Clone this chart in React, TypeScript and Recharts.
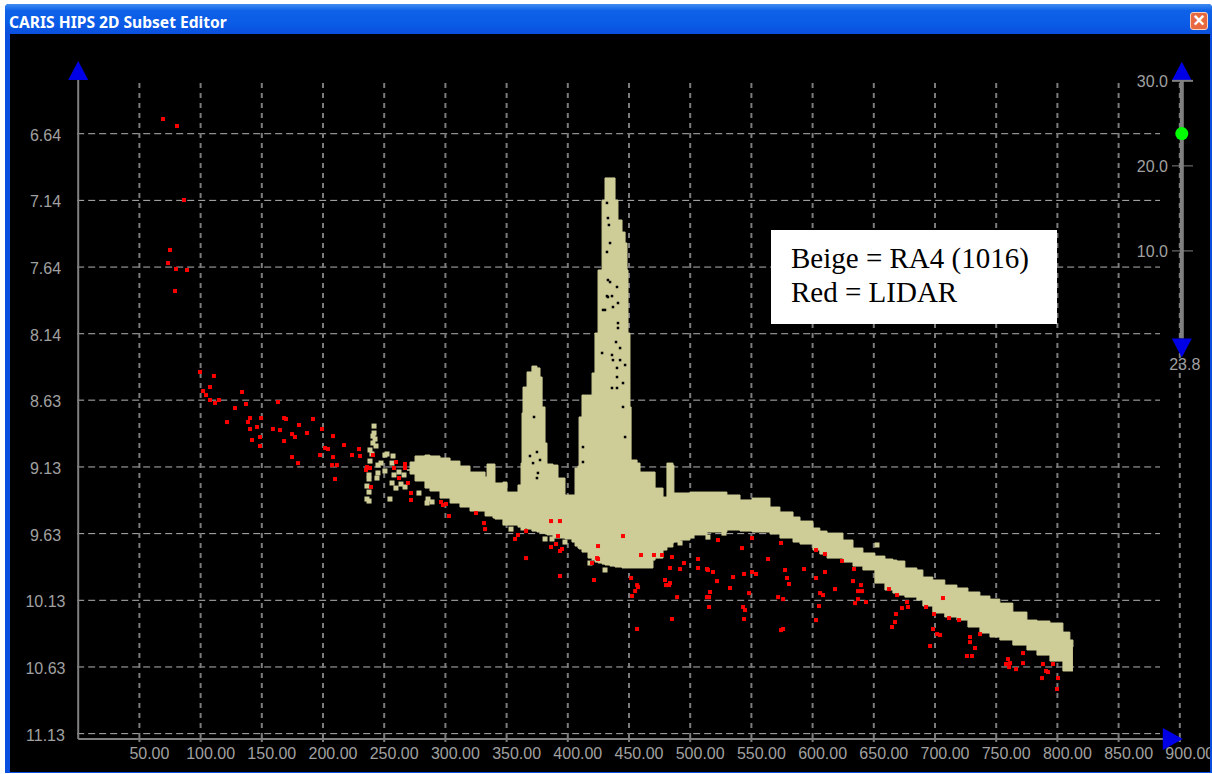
import React from 'react';
import {
  ComposedChart,
  Area,
  Scatter,
  XAxis,
  YAxis,
  CartesianGrid,
  ReferenceLine,
} from 'recharts';

const xTicks = [50, 100, 150, 200, 250, 300, 350, 400, 450, 500, 550, 600, 650, 700, 750, 800, 850, 900];
const yTicks = [6.64, 7.139, 7.638, 8.137, 8.634, 9.134, 9.633, 10.132, 10.631, 11.13];
const sliderTicks = [10, 20, 30];
const sliderValue = 23.8;

// beige swath outline: position, shallow edge, deep edge
const bandX = [
  268.6, 271.1, 275.2, 283.3, 287.4, 295.6, 303.8, 311.9, 320.1, 332.4, 334, 338.9, 340.5, 347, 350.3, 359.3, 361.8, 362.6, 363.4, 366.7,
  370.7, 374.8, 377.3, 379, 381.4, 383, 387.9, 392, 397.7, 403.4, 405.9, 408.3, 409.2, 411.6, 416.5, 419.8, 422.2, 424.7,
  428, 430.4, 434.5, 438.6, 441, 444.3, 446.8, 448.4, 449.2, 450.8, 451.7, 456.6, 459, 469.6, 471.3, 477.8, 481, 485.9,
  486.7, 491.7, 499.8, 513.7, 530, 540.7, 550.5, 565.2, 573.3, 584, 589.7, 600.3, 605.9, 611.8, 624.8, 633, 641.1, 650.9, 659.1, 665.6, 668.9, 675.4, 685.2,
  690.1, 698.2, 708, 717.9, 726.9, 736.7, 744.9, 753, 763.6, 775.1, 783.3, 793.9, 804.5, 810.2, 812.7,
];
const bandTop = [
  9.157, 9.097, 9.052, 9.045, 9.052, 9.067, 9.09, 9.127, 9.172, 9.209, 9.112, 9.112, 9.254, 9.247, 9.322, 9.269, 9.105, 8.73, 8.536, 8.423,
  8.379, 8.393, 8.461, 8.685, 8.955, 9.112, 9.12, 9.217, 9.344, 9.344, 9.142, 9.127, 8.76, 8.596, 8.596, 8.431, 8.132, 7.66,
  7.136, 6.971, 6.971, 7.136, 7.286, 7.376, 7.458, 7.66, 8.132, 8.685, 9.082, 9.105, 9.172, 9.172, 9.292, 9.359, 9.105, 9.12,
  9.329, 9.329, 9.322, 9.322, 9.344, 9.381, 9.367, 9.434, 9.471, 9.509, 9.539, 9.591, 9.614, 9.629, 9.681, 9.741, 9.778, 9.801, 9.823, 9.831, 9.838, 9.89, 9.905,
  9.958, 9.98, 10.018, 10.04, 10.07, 10.1, 10.123, 10.153, 10.22, 10.28, 10.287, 10.302, 10.37, 10.429, 10.482,
];
const bandBottom = [
  9.157, 9.187, 9.239, 9.292, 9.314, 9.367, 9.404, 9.434, 9.464, 9.501, 9.501, 9.516, 9.524, 9.569, 9.569, 9.584, 9.584, 9.584, 9.591, 9.599,
  9.614, 9.621, 9.629, 9.629, 9.636, 9.643, 9.666, 9.666, 9.673, 9.696, 9.726, 9.741, 9.748, 9.771, 9.816, 9.831, 9.846, 9.853,
  9.861, 9.868, 9.876, 9.883, 9.883, 9.89, 9.89, 9.89, 9.89, 9.89, 9.89, 9.89, 9.89, 9.831, 9.816, 9.756, 9.733, 9.703,
  9.696, 9.681, 9.643, 9.621, 9.606, 9.614, 9.621, 9.636, 9.666, 9.696, 9.711, 9.756, 9.786, 9.816, 9.846, 9.876, 9.905, 10.003, 10.055, 10.078, 10.093, 10.108, 10.13,
  10.175, 10.227, 10.257, 10.28, 10.332, 10.377, 10.407, 10.429, 10.467, 10.504, 10.542, 10.587, 10.661, 10.661, 10.661,
];

// loose soundings of the beige line
const strayX = [
  241.7, 241.7, 240.8, 242.5, 240.8, 243.3, 238.4, 240, 238.4, 244.9, 247.4, 250.6, 244.9, 237.6, 237.6, 244.1, 235.9, 237.6,
  235.9, 237.6, 254.7, 259.6, 256.4, 263.7, 267, 258, 262.1, 266.2, 256.4, 257.2, 252.3, 250.6, 278.4, 285, 285.8, 289.1,
  353.6, 363.4, 381.4, 387.1, 397.7, 418.1, 430.4, 491.7, 501.5, 514.5, 527.6, 652.6,
];
const strayY = [
  8.828, 8.88, 8.903, 8.925, 8.955, 8.977, 9.007, 9.037, 9.09, 9.12, 9.105, 9.164, 9.179, 9.194, 9.224, 9.217, 9.277, 9.322,
  9.374, 9.389, 9.374, 9.292, 9.254, 9.262, 9.284, 9.194, 9.172, 9.194, 9.105, 9.052, 9.037, 9.045, 9.329, 9.404, 9.374, 9.396,
  9.599, 9.591, 9.673, 9.673, 9.696, 9.853, 9.905, 9.703, 9.651, 9.659, 9.629, 9.718,
];

// gaps in the beige peaks
const gapX = [
  432, 434.5, 432.8, 433.6, 432, 432.8, 434.5, 432.8, 436.1, 432, 441, 441, 439.4, 442.7, 442.7, 440.2, 446.8, 440.2, 445.1, 436.1,
  440.2, 445.1, 446.8, 412.4, 412.4, 430.4, 436.9, 441, 440.2, 428.8, 428, 436.9, 436.1, 372.4, 374.8, 369.1, 377.3, 371.6, 375.6, 374.8,
];
const gapY = [
  7.525, 7.458, 7.271, 7.323, 7.158, 7.735, 7.75, 7.862, 7.855, 7.855, 8.057, 8.094, 8.199, 8.244, 8.334, 8.393, 8.371, 8.461, 8.506, 8.543,
  8.543, 8.685, 8.91, 8.985, 9.097, 7.959, 7.937, 7.907, 7.787, 7.959, 8.281, 8.334, 8.296, 8.76, 9.022, 9.052, 9.082, 9.105, 9.179, 9.217,
];

// LIDAR soundings
const redX = [
  69.3, 80.7, 86.4, 75, 73.4, 79.9, 88.9, 79.1, 99.5, 110.9, 107.7, 102, 104.4, 107.7, 111.8, 115, 133.8, 137.1, 128.1, 121.6,
  163.2, 140.4, 138.7, 149.4, 140.4, 146.1, 148.5, 142, 148.5, 159.1, 164.9, 168.2, 169.8, 180.4, 191.8, 174.7, 177.1, 168.2, 186.9, 199.2,
  208.2, 217.2, 201.7, 204.1, 197.6, 208.2, 174.7, 179.6, 207.4, 211.4, 209.8, 223.7, 229.4, 230.2, 240.8, 235.9, 235.1, 238.4, 239.2, 259.6,
  267, 267, 258, 262.1, 269.4, 271.9, 271.9, 296.4, 298, 300.5, 302.9, 331.5, 332.4, 325, 356.9, 359.3, 365.9, 365.9, 386.3, 390.4,
  392, 393.6, 395.3, 393.6, 393.6, 386.3, 424.7, 423.9, 424.7, 419.8, 421.4, 445.1, 459.8, 470.4, 477, 485.1, 483.5, 491.7, 494.9, 506.4,
  506.4, 513.7, 514.5, 518.6, 522.7, 542.3, 550.5, 550.5, 553.8, 544, 535, 521.9, 532.5, 548.1, 516.2, 513.7, 515.4, 515.4, 543.2, 544.8,
  544, 489.3, 485.1, 456.6, 451.7, 456.6, 457.4, 455, 452.5, 479.4, 483.5, 482.7, 480.2, 574.2, 563.6, 577.5, 593, 579.1, 580.7, 571.8,
  575.9, 574.2, 575.9, 602.8, 610.1, 624, 633.8, 610.1, 602.8, 633, 639.5, 637.1, 640.4, 618.3, 606.1, 608.5, 637.1, 634.7, 643.6, 605.2,
  602.8, 662.4, 669, 677.1, 677.9, 673, 668.1, 667.3, 664.9, 692.7, 699.2, 711.5, 719.6, 698.4, 701.7, 704.1, 696, 736.8, 728.6, 728.6,
  732.7, 726.1, 730.2, 771.9, 759.6, 758, 761.3, 760.5, 771.9, 766.2, 788.2, 790.7, 792.3, 787.4, 800.5, 799.7, 796.4, 706.5,
];
const redY = [
  6.53, 6.582, 7.136, 7.51, 7.608, 7.652, 7.66, 7.817, 8.423, 8.453, 8.536, 8.566, 8.596, 8.633, 8.655, 8.633, 8.573, 8.663, 8.693, 8.798,
  8.648, 8.768, 8.798, 8.768, 8.85, 8.835, 8.91, 8.932, 8.977, 8.85, 8.858, 8.768, 8.775, 8.82, 8.775, 8.888, 8.91, 8.94, 8.88, 8.85,
  8.903, 8.97, 8.992, 9, 9.045, 9.06, 9.06, 9.105, 9.12, 9.12, 9.224, 9.045, 9, 9.052, 9.045, 9.135, 9.157, 9.142, 9.284, 9.097,
  9.112, 9.142, 9.142, 9.217, 9.254, 9.329, 9.381, 9.396, 9.419, 9.411, 9.501, 9.554, 9.599, 9.479, 9.673, 9.643, 9.614, 9.816, 9.733, 9.711,
  9.651, 9.763, 9.748, 9.95, 9.539, 9.539, 9.726, 9.816, 9.823, 9.853, 9.98, 9.651, 9.793, 9.793, 9.793, 9.808, 9.89, 9.898, 9.853, 9.823,
  9.89, 9.898, 9.905, 9.92, 9.681, 9.741, 9.666, 9.92, 9.935, 9.935, 9.958, 9.988, 10.04, 10.078, 10.07, 10.108, 10.108, 10.182, 10.182, 10.205,
  10.272, 10.108, 10.272, 10.347, 9.965, 10.018, 10.033, 10.063, 10.1, 9.98, 10.003, 10.018, 10.018, 9.703, 9.823, 9.905, 9.898, 9.965, 10.01, 10.108,
  10.123, 10.355, 10.347, 9.756, 9.786, 9.838, 9.898, 9.92, 9.965, 9.988, 10.018, 10.063, 10.063, 10.048, 10.078, 10.093, 10.123, 10.153, 10.145, 10.175,
  10.28, 10.048, 10.093, 10.145, 10.182, 10.19, 10.235, 10.295, 10.332, 10.182, 10.235, 10.265, 10.28, 10.347, 10.385, 10.392, 10.474, 10.385, 10.407, 10.445,
  10.489, 10.549, 10.549, 10.527, 10.572, 10.609, 10.602, 10.632, 10.602, 10.647, 10.609, 10.661, 10.669, 10.714, 10.714, 10.796, 10.609, 10.115,
];

const bandData = bandX.map((x, i) => ({ x, band: [bandTop[i], bandBottom[i]] }));
const strayData = strayX.map((x, i) => ({ x, y: strayY[i] }));
const gapData = gapX.map((x, i) => ({ x, y: gapY[i] }));
const redData = redX.map((x, i) => ({ x, y: redY[i] }));

const FONT = '"Liberation Sans", Arial, sans-serif';
const LABEL = '#a0a0a0';
const BLUE = '#0000e6';
const BEIGE = '#cfcd97';

const Dot = (size: number, fill: string) => (props: any) => (
  <rect x={props.cx - size / 2} y={props.cy - size / 2} width={size} height={size} fill={fill} />
);

const Knob = (props: any) => <circle cx={props.cx + 2} cy={props.cy} r={6.5} fill="#00ff00" />;

const Triangle = (dir: 'up' | 'down' | 'right', shift = 0) => (props: any) => {
  const cx = props.cx + shift;
  const cy = props.cy;
  let pts = `${cx - 10},${cy} ${cx + 10},${cy} ${cx},${cy - 19}`;
  if (dir === 'down') pts = `${cx - 10},${cy} ${cx + 10},${cy} ${cx},${cy + 19}`;
  if (dir === 'right') pts = `${cx - 17},${cy - 11} ${cx - 17},${cy + 11} ${cx + 3},${cy}`;
  return (
    <g>
      <polygon points={pts} fill={BLUE} />
      {dir === 'down' && (
        <text x={cx + 3} y={cy + 32} textAnchor="middle" fontSize={16} fontFamily={FONT} fill={LABEL}>
          {sliderValue.toFixed(1)}
        </text>
      )}
    </g>
  );
};

const XTick = ({ x, y, payload }: any) => (
  <text x={x + 10} y={y + 15} textAnchor="middle" fontSize={16} fontFamily={FONT} fill={LABEL}>
    {payload.value.toFixed(2)}
  </text>
);

const YTick = ({ y, payload }: any) => (
  <text x={45.5} y={y + 7} textAnchor="middle" fontSize={16} fontFamily={FONT} fill={LABEL}>
    {payload.value.toFixed(2)}
  </text>
);

const SliderTick = ({ y, payload }: any) => (
  <g>
    <line x1={1172} x2={1193} y1={y} y2={y} stroke="#808080" strokeWidth={payload.value === 30 ? 2 : 1} />
    <text x={1168} y={y + 6} textAnchor="end" fontSize={16} fontFamily={FONT} fill={LABEL}>
      {payload.value.toFixed(1)}
    </text>
  </g>
);

const GridH = (props: any) => (
  <line x1={props.x1 - 1} x2={1160} y1={props.y1} y2={props.y2} stroke="#b4b4b4" strokeDasharray="7 4" />
);
const GridV = (props: any) => (
  <line x1={props.x1} x2={props.x2} y1={83} y2={props.y2} stroke="#7c7c7c" strokeWidth={2} strokeDasharray="5 5" />
);
const SliderBar = (props: any) => (
  <line x1={props.x1 + 2} x2={props.x2 + 2} y1={props.y1} y2={props.y2} stroke="#808080" strokeWidth={4} />
);

export default function App() {
  return (
    <div style={{ position: 'absolute', left: 0, top: 0, width: 1212, height: 774, background: '#fff', overflow: 'hidden' }}>
      <div
        style={{
          position: 'absolute', left: 5, top: 4, width: 1207, height: 769,
          background: '#0a4fe0', borderRadius: '4px 4px 0 0',
        }}
      />
      <div
        style={{
          position: 'absolute', left: 5, top: 4, width: 1207, height: 30, borderRadius: '4px 4px 0 0',
          background: 'linear-gradient(#3f8cf3 0%, #0f62e8 22%, #0a5ae6 70%, #0a4fdc 100%)',
        }}
      />
      <div
        style={{
          position: 'absolute', left: 9, top: 13, color: '#fff', fontFamily: '"Noto Sans", sans-serif',
          fontWeight: 700, fontSize: 15.6, lineHeight: '18px', whiteSpace: 'nowrap',
        }}
      >
        CARIS HIPS 2D Subset Editor
      </div>
      <div
        style={{
          position: 'absolute', left: 1190, top: 12, width: 18, height: 18, boxSizing: 'border-box',
          background: '#e8693f', border: '1px solid #f6d0c0', borderRadius: 3, color: '#fff',
          fontFamily: FONT, fontWeight: 700, fontSize: 20, lineHeight: '15px', textAlign: 'center',
        }}
      >
        ×
      </div>
      <div style={{ position: 'absolute', left: 10, top: 34, width: 1200, height: 738, background: '#000' }} />
      <div style={{ position: 'absolute', left: 0, top: 0 }}>
        <ComposedChart
          width={1210}
          height={772}
          margin={{ top: 80, right: 0.2, bottom: 13, left: 18.2 }}
          style={{ background: 'transparent' }}
        >
          <XAxis
            type="number"
            dataKey="x"
            domain={[0, 900]}
            ticks={xTicks}
            interval={0}
            height={20}
            tick={<XTick />}
            tickSize={3}
            axisLine={{ stroke: '#808080', strokeWidth: 2 }}
            tickLine={{ stroke: '#808080', strokeWidth: 2 }}
          />
          <YAxis
            type="number"
            dataKey="y"
            reversed
            domain={[6.238, 11.17]}
            ticks={yTicks}
            interval={0}
            width={60}
            tick={<YTick />}
            tickLine={false}
            axisLine={{ stroke: '#808080', strokeWidth: 2 }}
          />
          <YAxis
            yAxisId="slider"
            type="number"
            dataKey="y"
            orientation="right"
            domain={[-47.4, 30.1]}
            ticks={sliderTicks}
            interval={0}
            width={30}
            tick={<SliderTick />}
            tickLine={false}
            axisLine={false}
          />
          <Area
            data={bandData}
            dataKey="band"
            type="stepAfter"
            stroke={BEIGE}
            fill={BEIGE}
            fillOpacity={1}
            dot={false}
            activeDot={false}
            isAnimationActive={false}
          />
          <Scatter data={strayData} shape={Dot(5, BEIGE)} isAnimationActive={false} />
          <Scatter data={gapData} shape={Dot(2.5, '#000')} isAnimationActive={false} />
          <CartesianGrid horizontal={GridH} vertical={GridV} syncWithTicks />
          <Scatter data={redData} shape={Dot(4, '#ff0000')} isAnimationActive={false} />
          <ReferenceLine
            yAxisId="slider"
            segment={[{ x: 900, y: -0.3 }, { x: 900, y: 30 }]}
            shape={SliderBar}
          />
          <Scatter yAxisId="slider" data={[{ x: 900, y: sliderValue }]} shape={Knob} isAnimationActive={false} />
          <Scatter yAxisId="slider" data={[{ x: 900, y: 30 }]} shape={Triangle('up', 2)} isAnimationActive={false} />
          <Scatter yAxisId="slider" data={[{ x: 900, y: -0.3 }]} shape={Triangle('down', 2)} isAnimationActive={false} />
          <Scatter data={[{ x: 0, y: 6.238 }]} shape={Triangle('up')} isAnimationActive={false} />
          <Scatter data={[{ x: 900, y: 11.17 }]} shape={Triangle('right')} isAnimationActive={false} />
        </ComposedChart>
      </div>
      <div
        style={{
          position: 'absolute', left: 771, top: 230, width: 286, height: 94, background: '#fff', color: '#000',
          fontFamily: '"Liberation Serif", serif', fontSize: 29, lineHeight: '34px', padding: '11px 0 0 20px', boxSizing: 'border-box',
        }}
      >
        Beige = RA4 (1016)
        <br />
        Red = LIDAR
      </div>
    </div>
  );
}
